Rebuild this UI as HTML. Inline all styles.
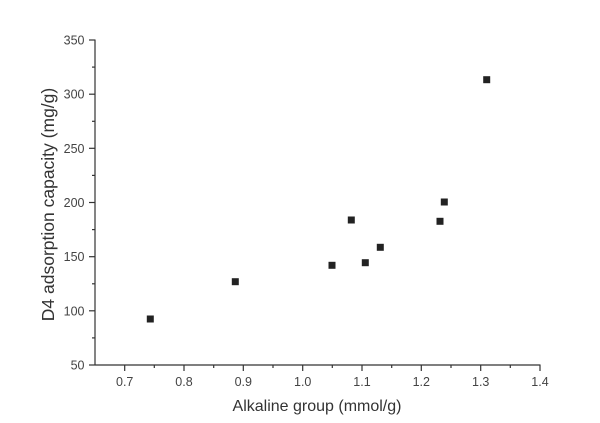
<!DOCTYPE html>
<html>
<head>
<meta charset="utf-8">
<style>
html,body{margin:0;padding:0;background:#fff;}
svg{display:block;}
text{font-family:"Liberation Sans",Arial,sans-serif;}
</style>
</head>
<body>
<svg width="600" height="423" viewBox="0 0 600 423" xmlns="http://www.w3.org/2000/svg">
<rect width="600" height="423" fill="#fff"/>
<g stroke="#333" stroke-width="1.2" fill="none">
  <line x1="95" y1="39.5" x2="95" y2="365"/>
  <line x1="95" y1="365" x2="540.5" y2="365"/>
  <!-- y major ticks -->
  <line x1="89" y1="40" x2="95" y2="40"/>
  <line x1="89" y1="94.2" x2="95" y2="94.2"/>
  <line x1="89" y1="148.3" x2="95" y2="148.3"/>
  <line x1="89" y1="202.5" x2="95" y2="202.5"/>
  <line x1="89" y1="256.7" x2="95" y2="256.7"/>
  <line x1="89" y1="310.8" x2="95" y2="310.8"/>
  <line x1="89" y1="365" x2="95" y2="365"/>
  <!-- y minor ticks -->
  <line x1="92" y1="67.1" x2="95" y2="67.1"/>
  <line x1="92" y1="121.3" x2="95" y2="121.3"/>
  <line x1="92" y1="175.4" x2="95" y2="175.4"/>
  <line x1="92" y1="229.6" x2="95" y2="229.6"/>
  <line x1="92" y1="283.8" x2="95" y2="283.8"/>
  <line x1="92" y1="337.9" x2="95" y2="337.9"/>
  <!-- x major ticks -->
  <line x1="124.7" y1="365" x2="124.7" y2="371"/>
  <line x1="184" y1="365" x2="184" y2="371"/>
  <line x1="243.3" y1="365" x2="243.3" y2="371"/>
  <line x1="302.7" y1="365" x2="302.7" y2="371"/>
  <line x1="362" y1="365" x2="362" y2="371"/>
  <line x1="421.3" y1="365" x2="421.3" y2="371"/>
  <line x1="480.7" y1="365" x2="480.7" y2="371"/>
  <line x1="540" y1="365" x2="540" y2="371"/>
  <!-- x minor ticks -->
  <line x1="154.3" y1="365" x2="154.3" y2="368"/>
  <line x1="213.7" y1="365" x2="213.7" y2="368"/>
  <line x1="273" y1="365" x2="273" y2="368"/>
  <line x1="332.3" y1="365" x2="332.3" y2="368"/>
  <line x1="391.7" y1="365" x2="391.7" y2="368"/>
  <line x1="451" y1="365" x2="451" y2="368"/>
  <line x1="510.3" y1="365" x2="510.3" y2="368"/>
</g>
<g font-size="12.5" fill="#444" text-anchor="end">
  <text x="84.5" y="44.5">350</text>
  <text x="84.5" y="98.7">300</text>
  <text x="84.5" y="152.8">250</text>
  <text x="84.5" y="207">200</text>
  <text x="84.5" y="261.2">150</text>
  <text x="84.5" y="315.3">100</text>
  <text x="84.5" y="369.5">50</text>
</g>
<g font-size="12.5" fill="#444" text-anchor="middle">
  <text x="124.7" y="386">0.7</text>
  <text x="184" y="386">0.8</text>
  <text x="243.3" y="386">0.9</text>
  <text x="302.7" y="386">1.0</text>
  <text x="362" y="386">1.1</text>
  <text x="421.3" y="386">1.2</text>
  <text x="480.7" y="386">1.3</text>
  <text x="540" y="386">1.4</text>
</g>
<text x="317" y="411" font-size="16" fill="#333" text-anchor="middle">Alkaline group (mmol/g)</text>
<text transform="translate(54,204.5) rotate(-90)" font-size="17.5" fill="#333" text-anchor="middle">D4 adsorption capacity (mg/g)</text>
<g fill="#222">
  <rect x="146.8" y="315.5" width="7" height="7"/>
  <rect x="231.8" y="278.2" width="7" height="7"/>
  <rect x="328.5" y="261.8" width="7" height="7"/>
  <rect x="347.8" y="216.5" width="7" height="7"/>
  <rect x="361.8" y="259.2" width="7" height="7"/>
  <rect x="376.8" y="243.8" width="7" height="7"/>
  <rect x="436.5" y="217.8" width="7" height="7"/>
  <rect x="440.8" y="198.5" width="7" height="7"/>
  <rect x="483.2" y="76.2" width="7" height="7"/>
</g>
</svg>
</body>
</html>
